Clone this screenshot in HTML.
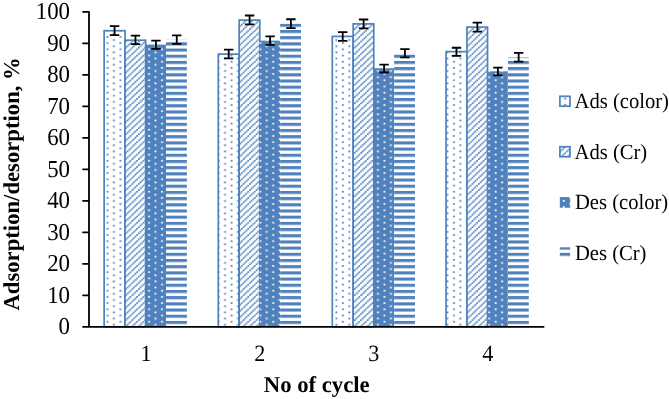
<!DOCTYPE html>
<html><head><meta charset="utf-8"><title>Adsorption/desorption chart</title>
<style>
html,body{margin:0;padding:0;background:#fff;}
body{width:669px;height:399px;overflow:hidden;}
svg{display:block;}
text{font-family:"Liberation Serif","Times New Roman",serif;fill:#000;text-rendering:geometricPrecision;}
.b{font-weight:bold;font-size:22.7px;}
.r{font-size:24.3px;}
.x{font-size:23.3px;}
.l{font-size:21.6px;}
</style></head><body>
<svg width="669" height="399" viewBox="0 0 669 399">
<defs>
<pattern id="d0" width="8" height="4" patternUnits="userSpaceOnUse" patternTransform="translate(3.111 5.195) scale(1.6175 1.5475)"><rect width="8" height="4" fill="#fff"/><rect x="-0.06" y="-0.06" width="1.12" height="1.12" fill="#4F81BD"/><rect x="-0.06" y="3.94" width="1.12" height="0.06" fill="#4F81BD"/><rect x="7.94" y="-0.06" width="0.06" height="1.12" fill="#4F81BD"/><rect x="3.94" y="1.94" width="1.12" height="1.12" fill="#4F81BD"/></pattern>
<pattern id="i0" width="8" height="4" patternUnits="userSpaceOnUse" patternTransform="translate(5.901 5.195) scale(1.6175 1.5475)"><rect width="8" height="4" fill="#4F81BD"/><rect x="-0.06" y="-0.06" width="1.12" height="1.12" fill="#fff"/><rect x="-0.06" y="3.94" width="1.12" height="0.06" fill="#fff"/><rect x="7.94" y="-0.06" width="0.06" height="1.12" fill="#fff"/><rect x="3.94" y="1.94" width="1.12" height="1.12" fill="#fff"/></pattern>
<pattern id="g0" width="4" height="4" patternUnits="userSpaceOnUse" patternTransform="translate(2.084 5.195) scale(1.6175 1.5475)"><rect width="4" height="4" fill="#fff"/><rect x="2.96" y="-0.04" width="1.08" height="1.08" fill="#4F81BD"/><rect x="1.96" y="0.96" width="1.08" height="1.08" fill="#4F81BD"/><rect x="0.96" y="1.96" width="1.08" height="1.08" fill="#4F81BD"/><rect x="-0.04" y="2.96" width="1.08" height="1.08" fill="#4F81BD"/><rect x="-1.04" y="3.96" width="1.08" height="1.08" fill="#4F81BD"/><rect x="3.96" y="-1.04" width="1.08" height="1.08" fill="#4F81BD"/></pattern>
<pattern id="d1" width="8" height="4" patternUnits="userSpaceOnUse" patternTransform="translate(10.711 5.195) scale(1.6175 1.5475)"><rect width="8" height="4" fill="#fff"/><rect x="-0.06" y="-0.06" width="1.12" height="1.12" fill="#4F81BD"/><rect x="-0.06" y="3.94" width="1.12" height="0.06" fill="#4F81BD"/><rect x="7.94" y="-0.06" width="0.06" height="1.12" fill="#4F81BD"/><rect x="3.94" y="1.94" width="1.12" height="1.12" fill="#4F81BD"/></pattern>
<pattern id="i1" width="8" height="4" patternUnits="userSpaceOnUse" patternTransform="translate(0.661 5.195) scale(1.6175 1.5475)"><rect width="8" height="4" fill="#4F81BD"/><rect x="-0.06" y="-0.06" width="1.12" height="1.12" fill="#fff"/><rect x="-0.06" y="3.94" width="1.12" height="0.06" fill="#fff"/><rect x="7.94" y="-0.06" width="0.06" height="1.12" fill="#fff"/><rect x="3.94" y="1.94" width="1.12" height="1.12" fill="#fff"/></pattern>
<pattern id="g1" width="4" height="4" patternUnits="userSpaceOnUse" patternTransform="translate(3.271 5.195) scale(1.6175 1.5475)"><rect width="4" height="4" fill="#fff"/><rect x="2.96" y="-0.04" width="1.08" height="1.08" fill="#4F81BD"/><rect x="1.96" y="0.96" width="1.08" height="1.08" fill="#4F81BD"/><rect x="0.96" y="1.96" width="1.08" height="1.08" fill="#4F81BD"/><rect x="-0.04" y="2.96" width="1.08" height="1.08" fill="#4F81BD"/><rect x="-1.04" y="3.96" width="1.08" height="1.08" fill="#4F81BD"/><rect x="3.96" y="-1.04" width="1.08" height="1.08" fill="#4F81BD"/></pattern>
<pattern id="d2" width="8" height="4" patternUnits="userSpaceOnUse" patternTransform="translate(5.641 5.195) scale(1.6175 1.5475)"><rect width="8" height="4" fill="#fff"/><rect x="-0.06" y="-0.06" width="1.12" height="1.12" fill="#4F81BD"/><rect x="-0.06" y="3.94" width="1.12" height="0.06" fill="#4F81BD"/><rect x="7.94" y="-0.06" width="0.06" height="1.12" fill="#4F81BD"/><rect x="3.94" y="1.94" width="1.12" height="1.12" fill="#4F81BD"/></pattern>
<pattern id="i2" width="8" height="4" patternUnits="userSpaceOnUse" patternTransform="translate(8.351 5.195) scale(1.6175 1.5475)"><rect width="8" height="4" fill="#4F81BD"/><rect x="-0.06" y="-0.06" width="1.12" height="1.12" fill="#fff"/><rect x="-0.06" y="3.94" width="1.12" height="0.06" fill="#fff"/><rect x="7.94" y="-0.06" width="0.06" height="1.12" fill="#fff"/><rect x="3.94" y="1.94" width="1.12" height="1.12" fill="#fff"/></pattern>
<pattern id="g2" width="4" height="4" patternUnits="userSpaceOnUse" patternTransform="translate(4.421 5.195) scale(1.6175 1.5475)"><rect width="4" height="4" fill="#fff"/><rect x="2.96" y="-0.04" width="1.08" height="1.08" fill="#4F81BD"/><rect x="1.96" y="0.96" width="1.08" height="1.08" fill="#4F81BD"/><rect x="0.96" y="1.96" width="1.08" height="1.08" fill="#4F81BD"/><rect x="-0.04" y="2.96" width="1.08" height="1.08" fill="#4F81BD"/><rect x="-1.04" y="3.96" width="1.08" height="1.08" fill="#4F81BD"/><rect x="3.96" y="-1.04" width="1.08" height="1.08" fill="#4F81BD"/></pattern>
<pattern id="d3" width="8" height="4" patternUnits="userSpaceOnUse" patternTransform="translate(0.241 5.195) scale(1.6175 1.5475)"><rect width="8" height="4" fill="#fff"/><rect x="-0.06" y="-0.06" width="1.12" height="1.12" fill="#4F81BD"/><rect x="-0.06" y="3.94" width="1.12" height="0.06" fill="#4F81BD"/><rect x="7.94" y="-0.06" width="0.06" height="1.12" fill="#4F81BD"/><rect x="3.94" y="1.94" width="1.12" height="1.12" fill="#4F81BD"/></pattern>
<pattern id="i3" width="8" height="4" patternUnits="userSpaceOnUse" patternTransform="translate(3.121 5.195) scale(1.6175 1.5475)"><rect width="8" height="4" fill="#4F81BD"/><rect x="-0.06" y="-0.06" width="1.12" height="1.12" fill="#fff"/><rect x="-0.06" y="3.94" width="1.12" height="0.06" fill="#fff"/><rect x="7.94" y="-0.06" width="0.06" height="1.12" fill="#fff"/><rect x="3.94" y="1.94" width="1.12" height="1.12" fill="#fff"/></pattern>
<pattern id="g3" width="4" height="4" patternUnits="userSpaceOnUse" patternTransform="translate(5.721 5.195) scale(1.6175 1.5475)"><rect width="4" height="4" fill="#fff"/><rect x="2.96" y="-0.04" width="1.08" height="1.08" fill="#4F81BD"/><rect x="1.96" y="0.96" width="1.08" height="1.08" fill="#4F81BD"/><rect x="0.96" y="1.96" width="1.08" height="1.08" fill="#4F81BD"/><rect x="-0.04" y="2.96" width="1.08" height="1.08" fill="#4F81BD"/><rect x="-1.04" y="3.96" width="1.08" height="1.08" fill="#4F81BD"/><rect x="3.96" y="-1.04" width="1.08" height="1.08" fill="#4F81BD"/></pattern>
<pattern id="hz" width="4" height="4" patternUnits="userSpaceOnUse" patternTransform="translate(0 5.195) scale(1.6175 1.5475)"><rect width="4" height="4" fill="#fff"/><rect x="0" y="0" width="4" height="2" fill="#4F81BD"/></pattern>
<pattern id="ld" width="8" height="4" patternUnits="userSpaceOnUse" patternTransform="translate(7.871 4.946) scale(1.6175 1.5475)"><rect width="8" height="4" fill="#fff"/><rect x="-0.06" y="-0.06" width="1.12" height="1.12" fill="#4F81BD"/><rect x="-0.06" y="3.94" width="1.12" height="0.06" fill="#4F81BD"/><rect x="7.94" y="-0.06" width="0.06" height="1.12" fill="#4F81BD"/><rect x="3.94" y="1.94" width="1.12" height="1.12" fill="#4F81BD"/></pattern>
<pattern id="lg" width="4" height="4" patternUnits="userSpaceOnUse" patternTransform="translate(3.019 3.836) scale(1.6175 1.5475)"><rect width="4" height="4" fill="#fff"/><rect x="2.96" y="-0.04" width="1.08" height="1.08" fill="#4F81BD"/><rect x="1.96" y="0.96" width="1.08" height="1.08" fill="#4F81BD"/><rect x="0.96" y="1.96" width="1.08" height="1.08" fill="#4F81BD"/><rect x="-0.04" y="2.96" width="1.08" height="1.08" fill="#4F81BD"/><rect x="-1.04" y="3.96" width="1.08" height="1.08" fill="#4F81BD"/><rect x="3.96" y="-1.04" width="1.08" height="1.08" fill="#4F81BD"/></pattern>
<pattern id="li" width="8" height="4" patternUnits="userSpaceOnUse" patternTransform="translate(6.531 2.006) scale(1.6175 1.5475)"><rect width="8" height="4" fill="#4F81BD"/><rect x="-0.06" y="-0.06" width="1.12" height="1.12" fill="#fff"/><rect x="-0.06" y="3.94" width="1.12" height="0.06" fill="#fff"/><rect x="7.94" y="-0.06" width="0.06" height="1.12" fill="#fff"/><rect x="3.94" y="1.94" width="1.12" height="1.12" fill="#fff"/></pattern>
<pattern id="lh" width="4" height="4" patternUnits="userSpaceOnUse" patternTransform="translate(0 5.200) scale(1.6175 1.5475)"><rect width="4" height="4" fill="#fff"/><rect x="0" y="0" width="4" height="2" fill="#4F81BD"/></pattern>
</defs>
<rect width="669" height="399" fill="#fff"/>
<rect x="104.15" y="30.70" width="20.87" height="296.10" fill="url(#d0)" stroke="#4F81BD" stroke-width="1.7"/>
<rect x="125.02" y="40.20" width="20.60" height="286.60" fill="url(#g0)" stroke="#4F81BD" stroke-width="1.7"/>
<rect x="145.15" y="44.60" width="20.85" height="282.20" fill="url(#i0)"/>
<rect x="166.00" y="39.65" width="20.87" height="287.15" fill="url(#hz)"/>
<rect x="218.30" y="54.10" width="20.87" height="272.70" fill="url(#d1)" stroke="#4F81BD" stroke-width="1.7"/>
<rect x="239.17" y="20.10" width="20.60" height="306.70" fill="url(#g1)" stroke="#4F81BD" stroke-width="1.7"/>
<rect x="259.30" y="40.60" width="20.85" height="286.20" fill="url(#i1)"/>
<rect x="280.15" y="23.50" width="20.87" height="303.30" fill="url(#hz)"/>
<rect x="332.30" y="36.40" width="20.87" height="290.40" fill="url(#d2)" stroke="#4F81BD" stroke-width="1.7"/>
<rect x="353.17" y="23.90" width="20.60" height="302.90" fill="url(#g2)" stroke="#4F81BD" stroke-width="1.7"/>
<rect x="373.30" y="68.20" width="20.85" height="258.60" fill="url(#i2)"/>
<rect x="394.15" y="53.10" width="20.87" height="273.70" fill="url(#hz)"/>
<rect x="446.06" y="51.60" width="20.87" height="275.20" fill="url(#d3)" stroke="#4F81BD" stroke-width="1.7"/>
<rect x="466.93" y="27.10" width="20.60" height="299.70" fill="url(#g3)" stroke="#4F81BD" stroke-width="1.7"/>
<rect x="487.06" y="71.30" width="20.85" height="255.50" fill="url(#i3)"/>
<rect x="507.91" y="57.30" width="20.87" height="269.50" fill="url(#hz)"/>
<path d="M114.55 26.10V35.10M109.85 26.10h9.4M109.85 35.10h9.4" stroke="#000" stroke-width="1.8" fill="none"/>
<path d="M135.45 35.65V44.15M130.75 35.65h9.4M130.75 44.15h9.4" stroke="#000" stroke-width="1.8" fill="none"/>
<path d="M155.95 40.65V48.95M151.25 40.65h9.4M151.25 48.95h9.4" stroke="#000" stroke-width="1.8" fill="none"/>
<path d="M176.75 35.40V43.90M172.05 35.40h9.4M172.05 43.90h9.4" stroke="#000" stroke-width="1.8" fill="none"/>
<path d="M228.70 49.70V58.30M224.00 49.70h9.4M224.00 58.30h9.4" stroke="#000" stroke-width="1.8" fill="none"/>
<path d="M249.60 15.50V24.40M244.90 15.50h9.4M244.90 24.40h9.4" stroke="#000" stroke-width="1.8" fill="none"/>
<path d="M270.10 36.45V44.85M265.40 36.45h9.4M265.40 44.85h9.4" stroke="#000" stroke-width="1.8" fill="none"/>
<path d="M290.90 19.27V28.13M286.20 19.27h9.4M286.20 28.13h9.4" stroke="#000" stroke-width="1.8" fill="none"/>
<path d="M342.70 32.10V40.90M338.00 32.10h9.4M338.00 40.90h9.4" stroke="#000" stroke-width="1.8" fill="none"/>
<path d="M363.60 19.51V28.39M358.90 19.51h9.4M358.90 28.39h9.4" stroke="#000" stroke-width="1.8" fill="none"/>
<path d="M384.10 64.70V72.50M379.40 64.70h9.4M379.40 72.50h9.4" stroke="#000" stroke-width="1.8" fill="none"/>
<path d="M404.90 49.10V57.40M400.20 49.10h9.4M400.20 57.40h9.4" stroke="#000" stroke-width="1.8" fill="none"/>
<path d="M456.46 47.75V55.95M451.76 47.75h9.4M451.76 55.95h9.4" stroke="#000" stroke-width="1.8" fill="none"/>
<path d="M477.36 22.60V31.60M472.66 22.60h9.4M472.66 31.60h9.4" stroke="#000" stroke-width="1.8" fill="none"/>
<path d="M497.86 67.60V75.40M493.16 67.60h9.4M493.16 75.40h9.4" stroke="#000" stroke-width="1.8" fill="none"/>
<path d="M518.66 52.90V61.70M513.96 52.90h9.4M513.96 61.70h9.4" stroke="#000" stroke-width="1.8" fill="none"/>
<path d="M89.0 11.80V326.80M83.00 326.80H543.7M83.00 295.30H89.0M83.00 263.80H89.0M83.00 232.30H89.0M83.00 200.80H89.0M83.00 169.30H89.0M83.00 137.80H89.0M83.00 106.30H89.0M83.00 74.80H89.0M83.00 43.30H89.0M83.00 11.80H89.0" stroke="#000" stroke-width="1.8" stroke-linecap="round" stroke-linejoin="round" fill="none"/>
<text class="r" transform="translate(70.0 334.40) scale(0.94 1)" text-anchor="end">0</text>
<text class="r" transform="translate(70.0 302.90) scale(0.94 1)" text-anchor="end">10</text>
<text class="r" transform="translate(70.0 271.40) scale(0.94 1)" text-anchor="end">20</text>
<text class="r" transform="translate(70.0 239.90) scale(0.94 1)" text-anchor="end">30</text>
<text class="r" transform="translate(70.0 208.40) scale(0.94 1)" text-anchor="end">40</text>
<text class="r" transform="translate(70.0 176.90) scale(0.94 1)" text-anchor="end">50</text>
<text class="r" transform="translate(70.0 145.40) scale(0.94 1)" text-anchor="end">60</text>
<text class="r" transform="translate(70.0 113.90) scale(0.94 1)" text-anchor="end">70</text>
<text class="r" transform="translate(70.0 82.40) scale(0.94 1)" text-anchor="end">80</text>
<text class="r" transform="translate(70.0 50.90) scale(0.94 1)" text-anchor="end">90</text>
<text class="r" transform="translate(70.0 19.40) scale(0.94 1)" text-anchor="end">100</text>
<text class="x" transform="translate(146.00 360.5) scale(0.953 1)" text-anchor="middle">1</text>
<text class="x" transform="translate(259.90 360.5) scale(0.953 1)" text-anchor="middle">2</text>
<text class="x" transform="translate(373.80 360.5) scale(0.953 1)" text-anchor="middle">3</text>
<text class="x" transform="translate(487.70 360.5) scale(0.953 1)" text-anchor="middle">4</text>
<text class="b" x="316.7" y="391.9" text-anchor="middle">No of cycle</text>
<text class="b" transform="translate(19.3 183.9) rotate(-90)" text-anchor="middle">Adsorption/desorption, %</text>
<rect x="559.9" y="96.3" width="10.1" height="9.9" fill="url(#ld)" stroke="#4F81BD" stroke-width="1.7"/>
<rect x="559.9" y="146.75" width="10.1" height="10.0" fill="url(#lg)" stroke="#4F81BD" stroke-width="1.7"/>
<rect x="559.83" y="197.07" width="10.4" height="10.7" fill="url(#li)"/>
<rect x="559.83" y="247.3" width="10.3" height="10.7" fill="url(#lh)"/>
<text class="l" transform="translate(574.5 107.60) scale(0.955 1)">Ads (color)</text>
<text class="l" transform="translate(574.5 158.50) scale(0.955 1)">Ads (Cr)</text>
<text class="l" transform="translate(574.9 209.20) scale(0.955 1)">Des (color)</text>
<text class="l" transform="translate(574.9 259.50) scale(0.955 1)">Des (Cr)</text>
</svg></body></html>
